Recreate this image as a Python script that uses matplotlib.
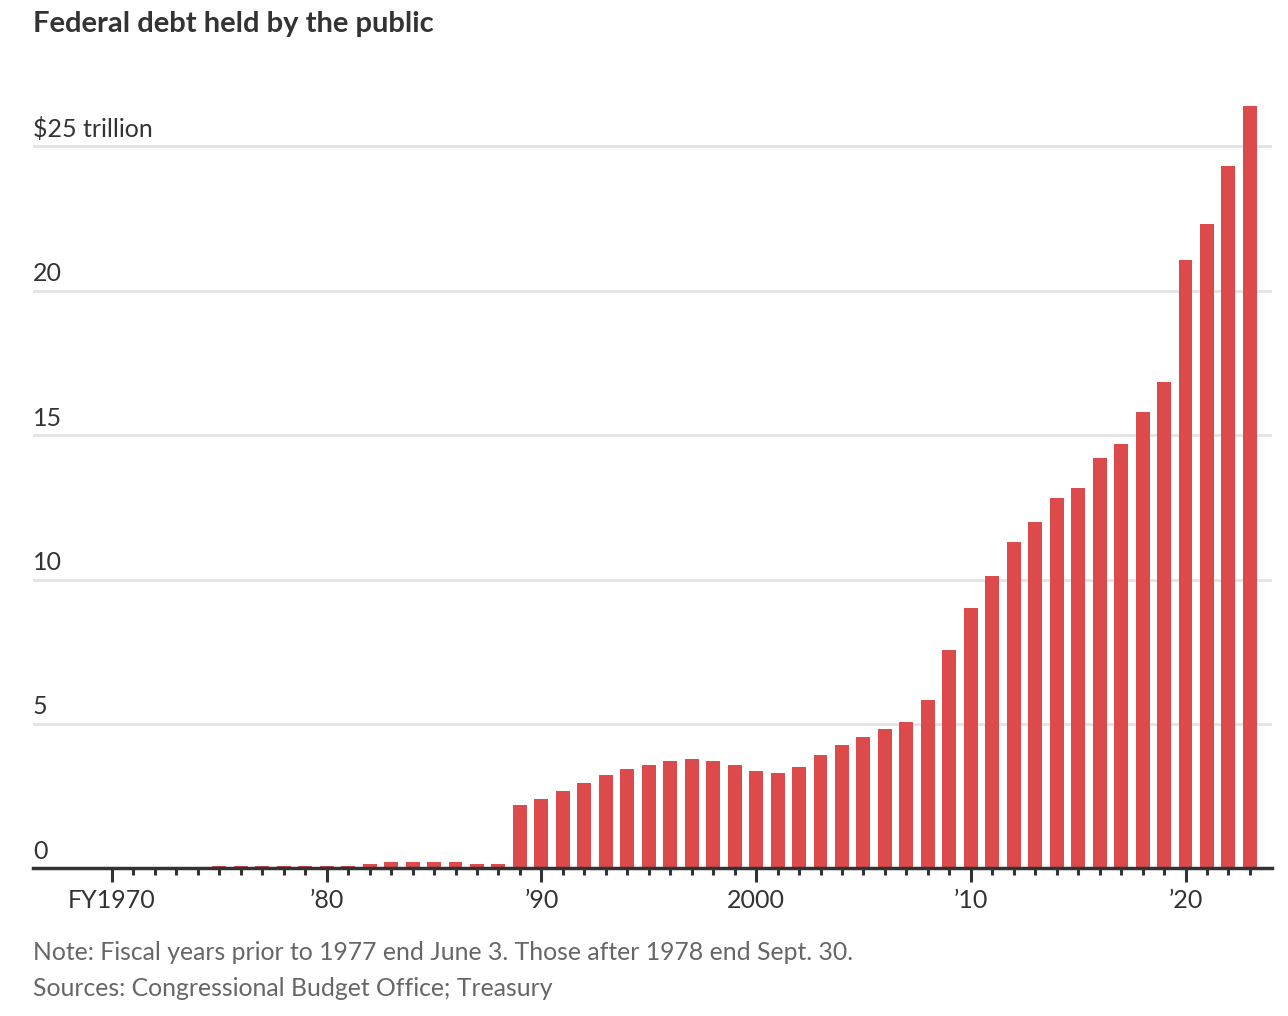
import matplotlib
matplotlib.use("Agg")
import matplotlib.pyplot as plt
import matplotlib.transforms as mtransforms

# datos (billones de dolares)
anios = list(range(1970, 2024))
deuda = [0, 0, 0, 0, 0,
         0.07, 0.07, 0.07, 0.07, 0.07, 0.07, 0.07,
         0.14, 0.21, 0.21, 0.21, 0.21, 0.14, 0.14,
         2.20, 2.41, 2.68, 2.96, 3.24, 3.45, 3.59, 3.73, 3.80, 3.73, 3.59,
         3.38, 3.31, 3.52, 3.94, 4.28, 4.56, 4.84, 5.06, 5.83, 7.56,
         9.01, 10.12, 11.30, 11.99, 12.82, 13.17, 14.20, 14.69, 15.80, 16.83,
         21.06, 22.30, 24.31, 26.38]

y_ticks = [0, 5, 10, 15, 20, 25]
y_labels = ["0", "5", "10", "15", "20", "$25 trillion"]
x_major = [1970, 1980, 1990, 2000, 2010, 2020]
x_labels = ["FY1970", "\u201980", "\u201990", "2000", "\u201910", "\u201920"]

titulo = "Federal debt held by the public"
nota = "Note: Fiscal years prior to 1977 end June 3. Those after 1978 end Sept. 30."
fuente = "Sources: Congressional Budget Office; Treasury"

rojo = "#dc4a4b"
oscuro = "#333333"
gris = "#666666"
fuente_cond = ["Lato", "DejaVu Sans"]

fig = plt.figure(figsize=(12.88, 10.16), dpi=100)
ax = fig.add_axes([0.0256, 0.1452, 0.9620, 0.7564])

# barras
ax.bar(anios, deuda, width=0.65, color=rojo, zorder=3)

ax.set_xlim(1966.32, 2024.03)
ax.set_ylim(0, 26.6)

# lineas de cuadricula
ax.set_yticks(y_ticks[1:])
ax.yaxis.grid(True, color="#e3e3e3", linewidth=2, zorder=0)
ax.tick_params(axis="y", length=0, labelleft=False)

# etiquetas del eje y sobre las lineas
trans = mtransforms.blended_transform_factory(ax.transAxes, ax.transData)
offset = mtransforms.ScaledTranslation(0, 4 / 72, fig.dpi_scale_trans)
for v, lab in zip(y_ticks, y_labels):
    ax.text(0.0, v, lab, transform=trans + offset, ha="left", va="bottom",
            fontsize=18, color=oscuro, family=fuente_cond)

# eje x
for s in ["top", "right", "left"]:
    ax.spines[s].set_visible(False)
ax.spines["bottom"].set_color(oscuro)
ax.spines["bottom"].set_linewidth(2.5)
ax.spines["bottom"].set_zorder(4)

ax.set_xticks(x_major)
ax.set_xticklabels(x_labels, family=fuente_cond, fontsize=18, color=oscuro)
ax.set_xticks(anios, minor=True)
ax.tick_params(axis="x", which="major", length=10, width=2.2, color=oscuro, pad=5)
ax.tick_params(axis="x", which="minor", length=5, width=2.2, color=oscuro)

# titulo y notas
fig.text(33 / 1288, 1 - 24 / 1016, titulo, ha="left", va="center",
         fontsize=21, fontweight="bold", color=oscuro, family="Lato")
fig.text(33 / 1288, 1 - 953 / 1016, nota, ha="left", va="center",
         fontsize=17.8, color=gris, family=fuente_cond)
fig.text(33 / 1288, 1 - 989 / 1016, fuente, ha="left", va="center",
         fontsize=17.8, color=gris, family=fuente_cond)

fig.savefig("out.png", dpi=100)
